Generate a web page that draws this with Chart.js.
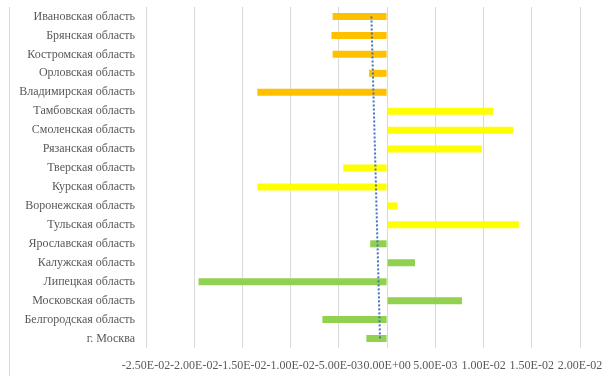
<!DOCTYPE html>
<html>
<head>
<meta charset="utf-8">
<script src="https://cdn.jsdelivr.net/npm/chart.js@4/dist/chart.umd.min.js"></script>
<style>
  html, body { margin: 0; padding: 0; background: #ffffff; }
  #wrap { width: 616px; height: 376px; position: relative; }
</style>
</head>
<body>
<div id="wrap"><canvas id="c" width="616" height="376"></canvas></div>
<script>
// Regions, top to bottom
const REGIONS = [
  'Ивановская область', 'Брянская область', 'Костромская область', 'Орловская область',
  'Владимирская область', 'Тамбовская область', 'Смоленская область', 'Рязанская область',
  'Тверская область', 'Курская область', 'Воронежская область', 'Тульская область',
  'Ярославская область', 'Калужская область', 'Липецкая область', 'Московская область',
  'Белгородская область', 'г. Москва'
];

// Value per region
const VALUES = [
  -0.00565, -0.00577, -0.00565, -0.00187,
  -0.01346, 0.01098, 0.01309, 0.00984,
  -0.00455, -0.01346, 0.00106, 0.01366,
  -0.00175, 0.00289, -0.01955, 0.00776,
  -0.00671, -0.00215
];

// Group index of each region and the fill used for each group
const REGION_GROUP = [0, 0, 0, 0, 0, 1, 1, 1, 1, 1, 1, 1, 2, 2, 2, 2, 2, 2];
const GROUP_COLORS = ['#FFC000', '#FFFF00', '#92D050'];

// Value axis ticks
const X_TICKS = [-0.025, -0.02, -0.015, -0.01, -0.005, 0, 0.005, 0.01, 0.015, 0.02];

// Least-squares linear trend over the region order (1..n)
function linearTrend(vals) {
  const n = vals.length;
  let sx = 0, sy = 0, sxx = 0, sxy = 0;
  vals.forEach((v, i) => { const x = i + 1; sx += x; sy += v; sxx += x * x; sxy += x * v; });
  const slope = (n * sxy - sx * sy) / (n * sxx - sx * sx);
  const icpt = (sy - slope * sx) / n;
  return { start: icpt + slope * 1, end: icpt + slope * n };
}
const trend = linearTrend(VALUES);

function sci(v) {
  if (Math.abs(v) < 1e-12) return '0.00E+00';
  const parts = v.toExponential(2).split('e');
  const sign = parts[1][0];
  const digits = parts[1].slice(1).padStart(2, '0');
  return parts[0] + 'E' + sign + digits;
}

// Thin frame line on the left side of the chart
const frameLine = {
  id: 'frameLine',
  beforeDraw(chart) {
    const ctx = chart.ctx;
    ctx.save();
    ctx.strokeStyle = '#D9D9D9';
    ctx.lineWidth = 1;
    ctx.beginPath();
    ctx.moveTo(9.5, 7);
    ctx.lineTo(9.5, chart.height);
    ctx.stroke();
    ctx.restore();
  }
};

const FONT = { family: '"Liberation Serif", "Times New Roman", serif', size: 12 };

new Chart(document.getElementById('c'), {
  type: 'bar',
  data: {
    labels: REGIONS,
    datasets: [
      {
        type: 'line',
        data: [{ x: trend.start, y: REGIONS[0] }, { x: trend.end, y: REGIONS[REGIONS.length - 1] }],
        borderColor: '#4472C4',
        borderWidth: 2,
        borderDash: [2, 2],
        pointRadius: 0,
        fill: false,
        order: 0
      },
      {
        data: VALUES,
        backgroundColor: REGION_GROUP.map(g => GROUP_COLORS[g]),
        borderWidth: 0,
        categoryPercentage: 1,
        barPercentage: 0.37,
        order: 1
      }
    ]
  },
  options: {
    indexAxis: 'y',
    responsive: false,
    animation: false,
    layout: { padding: { left: 0, right: 36, top: 7, bottom: 0 } },
    plugins: { legend: { display: false }, tooltip: { enabled: false } },
    scales: {
      x: {
        type: 'linear',
        min: -0.025,
        max: 0.02,
        afterBuildTicks(scale) { scale.ticks = X_TICKS.map(v => ({ value: v })); },
        afterFit(scale) { scale.height = 28; },
        grid: { color: '#D9D9D9', lineWidth: 1, drawTicks: false },
        border: { display: false },
        ticks: {
          autoSkip: false,
          maxRotation: 0,
          minRotation: 0,
          padding: 11,
          color: '#595959',
          font: FONT,
          callback: v => sci(v)
        }
      },
      y: {
        type: 'category',
        afterFit(scale) {
          scale.width = 146;
          scale.paddingTop = 0;
          scale.paddingBottom = 0;
        },
        grid: { display: false, drawTicks: false },
        border: { display: false },
        ticks: { padding: 11, color: '#595959', font: FONT }
      }
    }
  },
  plugins: [frameLine]
});
</script>
</body>
</html>
